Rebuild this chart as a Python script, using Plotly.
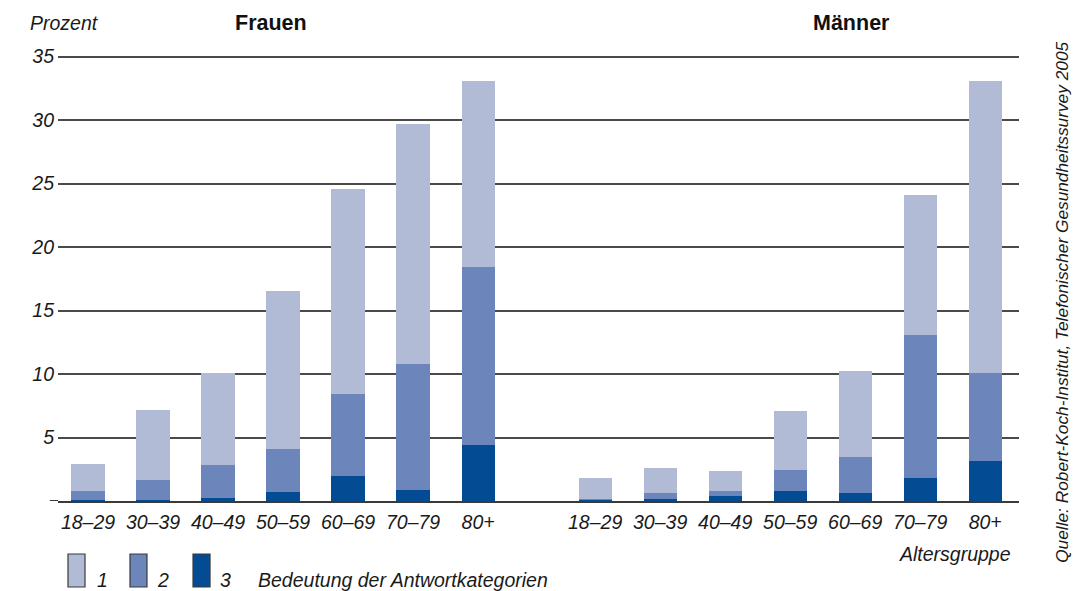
import plotly.graph_objects as go

# ---- data (segment heights, percent) ----
age_groups = ["18–29", "30–39", "40–49", "50–59", "60–69", "70–79", "80+"]

frauen_cat3 = [0.1, 0.1, 0.25, 0.7, 2.0, 0.87, 4.4]
frauen_cat2 = [0.7, 1.55, 2.55, 3.4, 6.4, 9.93, 14.05]
frauen_cat1 = [2.1, 5.55, 7.25, 12.4, 16.2, 18.85, 14.65]

maenner_cat3 = [0.1, 0.15, 0.4, 0.79, 0.63, 1.8, 3.15]
maenner_cat2 = [0.08, 0.48, 0.39, 1.65, 2.87, 11.28, 6.93]
maenner_cat1 = [1.62, 1.97, 1.57, 4.66, 6.75, 11.02, 23.02]

y_ticks = [0, 5, 10, 15, 20, 25, 30, 35]
y_tick_labels = ["", "5", "10", "15", "20", "25", "30", "35"]

# ---- layout constants ----
GROUP_OFFSET = 7.8
frauen_x = [i for i in range(len(age_groups))]
maenner_x = [GROUP_OFFSET + i for i in range(len(age_groups))]

C1 = "#B1BBD6"
C2 = "#6C86BB"
C3 = "#034B93"
FONT = "Liberation Sans, Arial, sans-serif"
BAR_W = 0.51

fig = go.Figure()

for xs, s3, s2, s1 in [(frauen_x, frauen_cat3, frauen_cat2, frauen_cat1),
                       (maenner_x, maenner_cat3, maenner_cat2, maenner_cat1)]:
    for vals, col in [(s3, C3), (s2, C2), (s1, C1)]:
        fig.add_trace(go.Bar(x=xs, y=vals, marker=dict(color=col, line=dict(width=0)),
                             width=BAR_W, showlegend=False, hoverinfo="skip"))

fig.update_layout(
    barmode="stack",
    width=1081, height=583,
    margin=dict(l=50, r=70, t=46, b=90),
    paper_bgcolor="white", plot_bgcolor="white",
    font=dict(family=FONT, size=19, color="#1a1a1a"),
    xaxis=dict(range=[-0.4615, 14.32], tickvals=frauen_x + maenner_x,
               ticktext=age_groups + age_groups, showgrid=False, zeroline=False,
               showline=True, linecolor="#3a3a3a", linewidth=2,
               tickfont=dict(family=FONT, size=19.5, style="italic", color="#1a1a1a"),
               ticks="", ticklabelstandoff=3, fixedrange=True),
    yaxis=dict(range=[0, 35.2], tickvals=y_ticks, ticktext=y_tick_labels,
               showgrid=True, gridcolor="#4a4a4a", gridwidth=1.5, zeroline=False,
               showline=False, ticks="", ticklabelstandoff=3,
               tickfont=dict(family=FONT, size=19.5, style="italic", color="#1a1a1a"),
               fixedrange=True),
)

# baseline extends slightly left of the gridlines
fig.add_shape(type="line", xref="paper", yref="y", x0=-0.0085, x1=0, y0=0, y1=0,
              line=dict(color="#3a3a3a", width=2))

def ann(text, x, y, xanchor="center", yanchor="middle", size=19, style="italic",
        weight="normal", angle=0, color="#1a1a1a"):
    fig.add_annotation(text=text, x=x, y=y, xref="paper", yref="paper",
                       xanchor=xanchor, yanchor=yanchor, showarrow=False,
                       textangle=angle,
                       font=dict(family=FONT, size=size, style=style, weight=weight, color=color))

ann("Prozent", -0.0312, 1.069, xanchor="left", size=19.5)
ann("Frauen", 0.2216, 1.069, size=21.5, style="normal", weight="bold", color="#111")
ann("Männer", 0.826, 1.069, size=21.5, style="normal", weight="bold", color="#111")
ann("Altersgruppe", 0.9938, -0.118, xanchor="right", size=19.5)
ann("Quelle: Robert-Koch-Institut, Telefonischer Gesundheitssurvey 2005",
    1.0445, 0.445, size=17.3, angle=-90)

# legend (drawn manually)
legend_items = [("1", C1, 0.0104, 0.0462), ("2", C2, 0.0749, 0.1093), ("3", C3, 0.1405, 0.1748)]
for label, col, x0, lx in legend_items:
    fig.add_shape(type="rect", xref="paper", yref="paper",
                  x0=x0, x1=x0 + 0.0177, y0=-0.1924, y1=-0.1186,
                  fillcolor=col, line=dict(color="#3a3a3a", width=1.2))
    ann(label, lx, -0.1767, xanchor="center", size=19.5)
ann("Bedeutung der Antwortkategorien", 0.206, -0.1767, xanchor="left", size=19.5)

fig.write_html("out.html")
